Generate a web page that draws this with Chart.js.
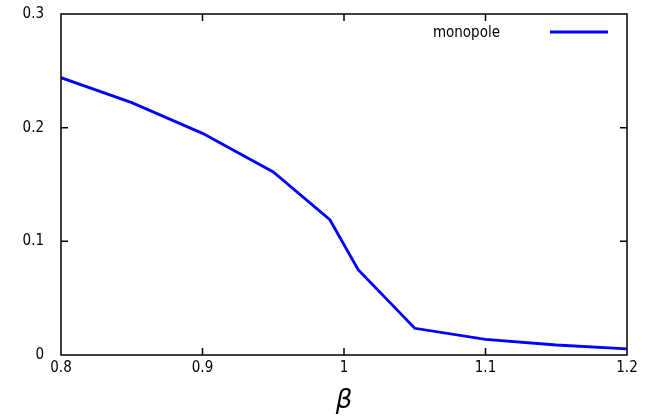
<!DOCTYPE html>
<html>
<head>
<meta charset="utf-8">
<script src="https://cdn.jsdelivr.net/npm/chart.js@4.4.1/dist/chart.umd.min.js"></script>
<style>
html,body{margin:0;padding:0;background:#fff;}
#wrap{width:647px;height:419px;position:relative;}
</style>
</head>
<body>
<div id="wrap"><canvas id="c" width="647" height="419"></canvas></div>
<script>
const betas = [0.8, 0.85, 0.9, 0.95, 0.99, 1.01, 1.05, 1.1, 1.15, 1.2];
const monopole = [0.244, 0.222, 0.195, 0.161, 0.119, 0.075, 0.0235, 0.0138, 0.0088, 0.0053];
const xTickLabels = ['0.8', '0.9', '1', '1.1', '1.2'];
const yTickLabels = ['0', '0.1', '0.2', '0.3'];
const seriesName = 'monopole';
const xTitle = 'β';

const FONT = "'DejaVu Sans Condensed', 'Liberation Sans Narrow', sans-serif";

const framePlugin = {
  id: 'frame',
  afterDatasetsDraw(chart) {
    const ctx = chart.ctx;
    const a = chart.chartArea;
    const xs = chart.scales.x, ys = chart.scales.y;
    ctx.save();
    ctx.strokeStyle = '#000';
    ctx.lineWidth = 1.5;
    ctx.strokeRect(a.left, a.top, a.right - a.left, a.bottom - a.top);
    const L = 7;
    ctx.beginPath();
    xs.ticks.forEach((t, i) => {
      if (i === 0 || i === xs.ticks.length - 1) return;
      const px = xs.getPixelForValue(t.value);
      ctx.moveTo(px, a.bottom); ctx.lineTo(px, a.bottom - L);
      ctx.moveTo(px, a.top); ctx.lineTo(px, a.top + L);
    });
    ys.ticks.forEach((t, i) => {
      if (i === 0 || i === ys.ticks.length - 1) return;
      const py = ys.getPixelForValue(t.value);
      ctx.moveTo(a.left, py); ctx.lineTo(a.left + L, py);
      ctx.moveTo(a.right, py); ctx.lineTo(a.right - L, py);
    });
    ctx.stroke();
    // legend (gnuplot style: text then line sample)
    ctx.font = '15px ' + FONT;
    ctx.fillStyle = '#000';
    ctx.textAlign = 'right';
    ctx.textBaseline = 'middle';
    ctx.fillText(seriesName, a.left + 439, a.top + 19);
    ctx.strokeStyle = '#0000ff';
    ctx.lineWidth = 2.8;
    ctx.beginPath();
    ctx.moveTo(a.left + 489, a.top + 18);
    ctx.lineTo(a.left + 547, a.top + 18);
    ctx.stroke();
    ctx.restore();
  }
};

new Chart(document.getElementById('c'), {
  type: 'line',
  data: {
    datasets: [{
      label: seriesName,
      data: betas.map((b, i) => ({x: b, y: monopole[i]})),
      borderColor: '#0000ff',
      backgroundColor: '#0000ff',
      borderWidth: 2.8,
      pointRadius: 0,
      tension: 0,
      fill: false
    }]
  },
  options: {
    responsive: false,
    animation: false,
    layout: {padding: {left: 0, right: 20, top: 14, bottom: 0}},
    plugins: {legend: {display: false}, tooltip: {enabled: false}},
    scales: {
      x: {
        type: 'linear', min: 0.8, max: 1.2,
        grid: {display: false, drawTicks: false},
        border: {display: false},
        afterBuildTicks(s) { s.ticks = [0.8, 0.9, 1.0, 1.1, 1.2].map(v => ({value: v})); },
        afterFit(s) { s.height = 64; s.paddingLeft = 0; s.paddingRight = 0; },
        ticks: {
          padding: 4,
          color: '#000',
          font: {family: FONT, size: 15},
          maxRotation: 0,
          callback: (v, i) => xTickLabels[i]
        },
        title: {
          display: true, text: xTitle, color: '#000',
          font: {family: "'DejaVu Sans'", size: 26, style: 'italic'},
          padding: {top: 0, bottom: 2}
        }
      },
      y: {
        type: 'linear', min: 0, max: 0.3,
        grid: {display: false, drawTicks: false},
        border: {display: false},
        afterBuildTicks(s) { s.ticks = [0, 0.1, 0.2, 0.3].map(v => ({value: v})); },
        afterFit(s) { s.width = 61; s.paddingTop = 0; s.paddingBottom = 0; },
        ticks: {
          padding: 17,
          color: '#000',
          font: {family: FONT, size: 15},
          callback: (v, i) => yTickLabels[i]
        }
      }
    }
  },
  plugins: [framePlugin]
});
</script>
</body>
</html>
